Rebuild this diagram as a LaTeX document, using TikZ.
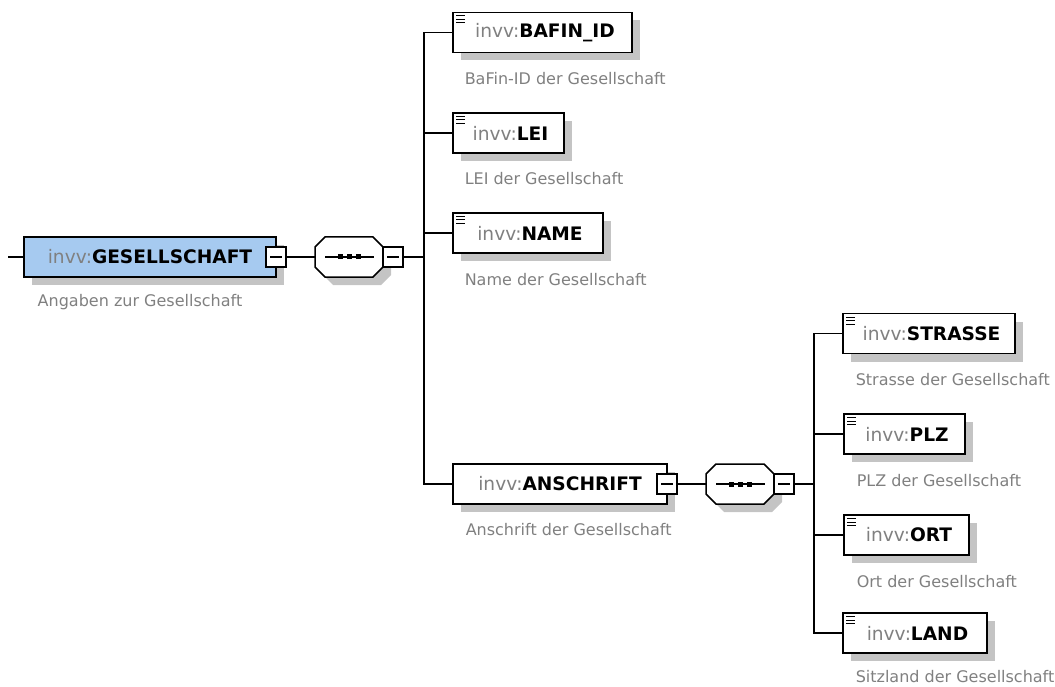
\documentclass[tikz,border=0pt]{standalone}
\usepackage{fontspec}
\setmainfont{DejaVu Sans}
\usepackage{tikz}
\usetikzlibrary{shadows,calc}
\definecolor{xsblue}{RGB}{166,202,240}
\definecolor{xsgray}{RGB}{128,128,128}
\definecolor{xsshade}{RGB}{196,196,196}
\tikzstyle{shade} = [drop shadow={shadow xshift=8pt, shadow yshift=-8pt, fill=xsshade, opacity=1}]
\tikzstyle{elem} = [draw, fill=white, outer sep=0pt, inner sep=0pt, minimum height=40pt,
  font=\fontsize{18.6}{22}\selectfont, shade]
\tikzstyle{seq} = [draw=none, outer sep=0pt, inner sep=0pt, minimum width=68pt, minimum height=40pt]
\tikzstyle{minus} = [draw, fill=white, outer sep=0pt, inner sep=0pt, minimum size=20pt,
  path picture={\draw ([xshift=-6pt]path picture bounding box.center) -- ([xshift=6pt]path picture bounding box.center);}]
\tikzstyle{desc} = [anchor=base west, inner sep=0pt, text=xsgray, font=\fontsize{16}{19}\selectfont]
\tikzstyle{bus} = [to path={|- (\tikztotarget)}]
\newcommand{\xsname}[1]{\textcolor{xsgray}{invv:}\textbf{#1}}

\begin{document}
\begin{tikzpicture}[x=1pt,y=-1pt,line width=1.5pt]
\useasboundingbox (0,0) rectangle (1055,687);

% top element and its sequence
\node[elem, fill=xsblue, minimum width=252pt] (gesell) at (150,257) {\xsname{GESELLSCHAFT}\hspace{10pt}};
\node[minus] (gminus) at (gesell.east) {};
\node[seq] (gseq) at (349,257) {};
\node[desc] (geselld) at ($(gesell.south west)+(13,29)$) {Angaben zur Gesellschaft};
\coordinate (gin) at (8,257);
\coordinate (j1) at (424,257);

% children of GESELLSCHAFT
\node[elem, minimum width=179pt] (bafin) at (542.5,32.5) {\hspace{5pt}\xsname{BAFIN\_ID}};
\node[elem, minimum width=111pt] (lei) at (508.5,133) {\hspace{4pt}\xsname{LEI}};
\node[elem, minimum width=150pt] (name) at (528,233) {\hspace{4pt}\xsname{NAME}};
\node[elem, minimum width=214pt] (anschrift) at (560,484) {\xsname{ANSCHRIFT}\hspace{10pt}};
\node[minus] (aminus) at (anschrift.east) {};
\node[seq] (aseq) at (740,484) {};
\coordinate (j2) at (814,484);

\node[desc] (bafind) at ($(bafin.south west)+(11,32)$) {BaFin-ID der Gesellschaft};
\node[desc] (leid) at ($(lei.south west)+(11,32)$) {LEI der Gesellschaft};
\node[desc] (named) at ($(name.south west)+(11,32)$) {Name der Gesellschaft};
\node[desc] (anschriftd) at ($(anschrift.south west)+(12,31)$) {Anschrift der Gesellschaft};

% children of ANSCHRIFT
\node[elem, minimum width=172pt] (strasse) at (929,333.5) {\hspace{5pt}\xsname{STRASSE}};
\node[elem, minimum width=121pt] (plz) at (904.5,434) {\hspace{5pt}\xsname{PLZ}};
\node[elem, minimum width=125pt] (ort) at (906.5,535) {\hspace{5pt}\xsname{ORT}};
\node[elem, minimum width=144pt] (land) at (915,633) {\hspace{5pt}\xsname{LAND}};

\node[desc] (strassed) at ($(strasse.south west)+(12,32)$) {Strasse der Gesellschaft};
\node[desc] (plzd) at ($(plz.south west)+(12,32)$) {PLZ der Gesellschaft};
\node[desc] (ortd) at ($(ort.south west)+(12,32)$) {Ort der Gesellschaft};
\node[desc] (landd) at ($(land.south west)+(12,29)$) {Sitzland der Gesellschaft};

% sequence symbols
\foreach \s in {gseq,aseq} {
  \draw[fill=white, shade] ($(\s.north west)+(10,0)$) -- ($(\s.north east)+(-10,0)$)
    -- ($(\s.north east)+(0,10)$) -- ($(\s.south east)+(0,-10)$)
    -- ($(\s.south east)+(-10,0)$) -- ($(\s.south west)+(10,0)$)
    -- ($(\s.south west)+(0,-10)$) -- ($(\s.north west)+(0,10)$) -- cycle;
  \draw ([xshift=-24pt]\s.center) -- ([xshift=25pt]\s.center);
  \foreach \dx in {-9,0,9}
    \fill ([xshift=\dx pt]\s.center) +(-2.5,-2.5) rectangle +(2.5,2.5);
}
\node[minus, anchor=west] (gseqminus) at (gseq.east) {};
\node[minus, anchor=west] (aseqminus) at (aseq.east) {};

% simple content icons
\foreach \n in {bafin,lei,name,strasse,plz,ort,land} {
  \foreach \dy in {3.5,7,10.5}
    \draw[line width=1pt] ($(\n.north west)+(3,\dy)$) -- +(9,0);
}

  \path
    (gin) edge [] (gesell)
    (gminus) edge [] (gseq)
    (gseqminus) edge [] (j1)
    (j1) edge [bus] (bafin)
    (j1) edge [bus] (lei)
    (j1) edge [bus] (name)
    (j1) edge [bus] (anschrift)

    (aminus) edge [] (aseq)
    (aseqminus) edge [] (j2)
    (j2) edge [bus] (strasse)
    (j2) edge [bus] (plz)
    (j2) edge [bus] (ort)
    (j2) edge [bus] (land);

\end{tikzpicture}
\end{document}
